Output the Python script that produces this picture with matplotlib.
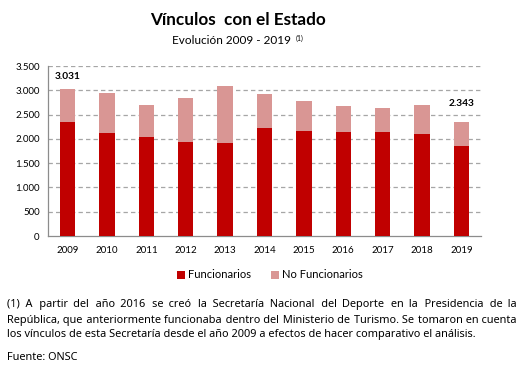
import matplotlib
matplotlib.use("Agg")
import matplotlib.pyplot as plt
import numpy as np

years = ["2009", "2010", "2011", "2012", "2013", "2014", "2015", "2016", "2017", "2018", "2019"]
funcionarios = [2350, 2130, 2040, 1940, 1920, 2230, 2160, 2135, 2135, 2100, 1845]
totales = [3031, 2950, 2700, 2840, 3090, 2920, 2785, 2675, 2635, 2690, 2343]
no_funcionarios = [t - f for t, f in zip(totales, funcionarios)]
yticks = [0, 500, 1000, 1500, 2000, 2500, 3000, 3500]
ytick_labels = ["0", "500", "1.000", "1.500", "2.000", "2.500", "3.000", "3.500"]
labeled = {0: "3.031", 10: "2.343"}

RED = "#C00000"
PINK = "#D99694"
FONT = ["Lato", "DejaVu Sans"]
NOTE_FONT = ["Noto Sans", "DejaVu Sans"]
plt.rcParams["font.family"] = FONT

W, H = 523, 374
fig = plt.figure(figsize=(W / 100, H / 100), dpi=100)
ax = fig.add_axes([48 / W, (H - 236) / H, (481 - 48) / W, (236 - 66) / H])

x = np.arange(len(years))
bw = 0.39
ax.bar(x, funcionarios, width=bw, color=RED, label="Funcionarios", zorder=3)
ax.bar(x, no_funcionarios, width=bw, bottom=funcionarios, color=PINK,
       label="No Funcionarios", zorder=3)

ax.set_xlim(-0.5, len(years) - 0.5)
ax.set_ylim(0, 3500)
ax.set_yticks(yticks)
ax.set_yticklabels(ytick_labels)
ax.set_xticks(x)
ax.set_xticklabels(years)
ax.tick_params(axis="both", length=0, labelsize=7, colors="#000000", pad=6)
ax.tick_params(axis="x", pad=7)
for t in yticks[1:]:
    ax.axhline(t, color="#A6A6A6", lw=0.9, ls=(0, (3.5, 2.5)), zorder=1)
for s in ["top", "right"]:
    ax.spines[s].set_visible(False)
for s in ["left", "bottom"]:
    ax.spines[s].set_color("#8C8C8C")
    ax.spines[s].set_linewidth(0.9)

offs = {0: 5.5, 10: 10.5}
for i, txt in labeled.items():
    ax.annotate(txt, (x[i], totales[i]), xytext=(0, offs[i]), textcoords="offset points",
                ha="center", va="bottom", fontsize=7.3, fontweight="bold")

# Title
fig.text(238 / W, 1 - 20 / H, "Vínculos  con el Estado", ha="center", va="center",
         fontsize=12.3, fontweight="bold")
fig.text(231 / W, 1 - 40 / H, "Evolución 2009 - 2019", ha="center", va="center", fontsize=8.5)
fig.text(296 / W, 1 - 38 / H, "(1)", ha="left", va="center", fontsize=5)

# Legend
leg = fig.legend(loc="center", bbox_to_anchor=(270 / W, 1 - 275 / H), ncol=2, frameon=False,
                 fontsize=8, handlelength=0.7, handleheight=0.7, handletextpad=0.3,
                 columnspacing=1.8)

# Footnote, justified by padding the gaps with spaces of different widths
lines = [
    "(1) A partir del año 2016 se creó la Secretaría Nacional del Deporte en la Presidencia de la",
    "República, que anteriormente funcionaba dentro del Ministerio de Turismo. Se tomaron en cuenta",
    "los vínculos de esta Secretaría desde el año 2009 a efectos de hacer comparativo el análisis.",
]
ys = [307.5, 322.5, 337.5]
x0, x1 = 7, 517
fig.canvas.draw()
renderer = fig.canvas.get_renderer()


def text_width(s, fs):
    t = fig.text(0, 0, s, fontsize=fs, family=NOTE_FONT)
    w = t.get_window_extent(renderer).width
    t.remove()
    return w


fs = 7 * (477 - x0) / text_width(lines[2], 7)
base = text_width("xx", fs)
w_sp = (text_width("x" + " " * 10 + "x", fs) - base) / 10
w_hair = (text_width("x" + "\u200a" * 10 + "x", fs) - base) / 10
if w_hair <= 0.05:
    w_hair = w_sp / 4

for li, (line, yy) in enumerate(zip(lines, ys)):
    words = line.split(" ")
    if li < 2:
        words_w = text_width("".join(words), fs)
        gap = (x1 - x0 - words_w) / (len(words) - 1)
        out = words[0]
        err = 0.0
        for wd in words[1:]:
            target = gap + err
            n = max(1, int(target // w_sp))
            rem = target - n * w_sp
            m = max(0, int(round(rem / w_hair)))
            err = target - (n * w_sp + m * w_hair)
            out += " " * n + "\u200a" * m + wd
        line = out
    fig.text(x0 / W, 1 - yy / H, line, fontsize=fs, va="baseline", ha="left",
             family=NOTE_FONT)
fig.text(x0 / W, 1 - 360.5 / H, "Fuente: ONSC", fontsize=fs, va="baseline", ha="left",
         family=NOTE_FONT)

fig.savefig("out.png", dpi=100)
